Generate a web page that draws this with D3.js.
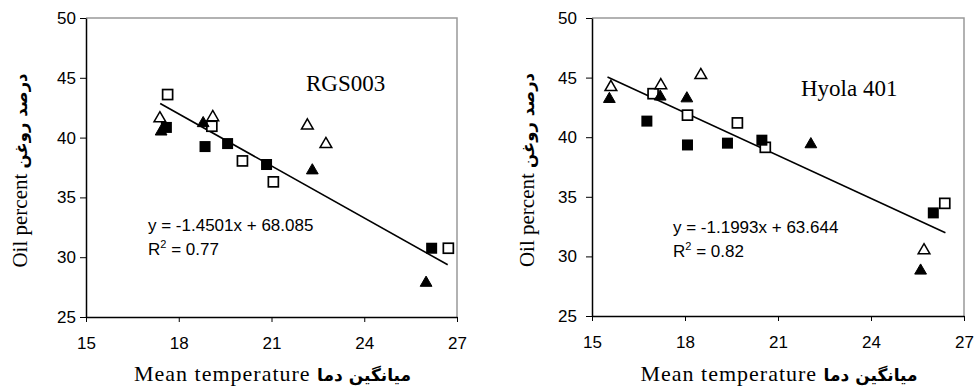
<!DOCTYPE html>
<html>
<head>
<meta charset="utf-8">
<script src="https://cdn.jsdelivr.net/npm/d3@7"></script>
<style>
  body { margin: 0; background: #fff; }
  svg { display: block; }
</style>
</head>
<body>
<div id="chart"></div>
<script>
// ticks shared by both panels
const xTicks = [15, 18, 21, 24, 27];
const yTicks = [25, 30, 35, 40, 45, 50];

// RGS003
const rgsOpenSquares = [[17.64, 43.6], [19.07, 40.95], [20.06, 38.05], [21.06, 36.3], [26.72, 30.75]];
const rgsFilledSquares = [[17.6, 40.85], [18.85, 39.25], [19.58, 39.5], [20.84, 37.75], [26.18, 30.75]];
const rgsOpenTriangles = [[17.39, 41.6], [19.1, 41.7], [22.16, 41.0], [22.76, 39.45]];
const rgsFilledTriangles = [[17.43, 40.5], [18.79, 41.2], [22.32, 37.25], [26.0, 27.85]];
const rgsFit = { slope: -1.4501, intercept: 68.085, from: 17.4, to: 26.7 };
const rgsLabels = ['RGS003', 'y = -1.4501x + 68.085', '0.77'];

// Hyola 401
const hyoOpenSquares = [[16.97, 43.65], [18.08, 41.85], [19.69, 41.2], [20.59, 39.15], [26.38, 34.45]];
const hyoFilledSquares = [[16.77, 41.35], [18.08, 39.35], [19.37, 39.5], [20.48, 39.75], [26.01, 33.65]];
const hyoOpenTriangles = [[15.61, 44.2], [17.22, 44.35], [18.51, 45.2], [25.71, 30.5]];
const hyoFilledTriangles = [[15.56, 43.2], [17.2, 43.4], [18.06, 43.25], [22.06, 39.4], [25.6, 28.8]];
const hyoFit = { slope: -1.1993, intercept: 63.644, from: 15.5, to: 26.4 };
const hyoLabels = ['Hyola 401', 'y = -1.1993x + 63.644', '0.82'];

const W = 974, H = 389;
const svg = d3.select('#chart').append('svg').attr('width', W).attr('height', H);

const sans = 'Arial, "Liberation Sans", sans-serif';
const serif = '"Times New Roman", "Liberation Serif", serif';
const persian = '"DejaVu Sans", sans-serif';

function drawPanel(p) {
    const x = d3.scaleLinear().domain([15, 27]).range([p.left, p.right]);
    const y = d3.scaleLinear().domain([25, 50]).range([p.bottom, p.top]);
    const g = svg.append('g');

    // gray frame top + right
    g.append('path')
        .attr('d', `M${p.left},${p.top}H${p.right}V${p.bottom}`)
        .attr('fill', 'none').attr('stroke', '#999').attr('stroke-width', 1.5);

    const yAxis = g.append('g').attr('transform', `translate(${p.left},0)`)
        .call(d3.axisLeft(y).tickValues(yTicks).tickSize(6).tickPadding(p.yPad).tickSizeOuter(0));
    const xAxis = g.append('g').attr('transform', `translate(0,${p.bottom})`)
        .call(d3.axisBottom(x).tickValues(xTicks).tickSize(5).tickPadding(15).tickSizeOuter(0));
    [xAxis, yAxis].forEach(a => {
        a.select('.domain').attr('stroke', '#000').attr('stroke-width', 1.5);
        a.selectAll('.tick line').attr('stroke', '#000').attr('stroke-width', 1);
        a.selectAll('.tick text').attr('font-family', sans).attr('font-size', 17).attr('fill', '#000');
    });

    // trend line
    g.append('line')
        .attr('x1', x(p.fit.from)).attr('y1', y(p.fit.slope * p.fit.from + p.fit.intercept))
        .attr('x2', x(p.fit.to)).attr('y2', y(p.fit.slope * p.fit.to + p.fit.intercept))
        .attr('stroke', '#000').attr('stroke-width', 1.6);

    const sq = 10;
    const tri = d3.symbol().type(d3.symbolTriangle).size(60);
    const pts = g.append('g');
    pts.selectAll('.os').data(p.openSquares).join('rect')
        .attr('x', d => x(d[0]) - sq / 2).attr('y', d => y(d[1]) - sq / 2)
        .attr('width', sq).attr('height', sq)
        .attr('fill', '#fff').attr('stroke', '#000').attr('stroke-width', 1.7);
    pts.selectAll('.fs').data(p.filledSquares).join('rect')
        .attr('x', d => x(d[0]) - sq / 2 - 0.5).attr('y', d => y(d[1]) - sq / 2 - 0.5)
        .attr('width', sq + 1).attr('height', sq + 1)
        .attr('fill', '#000');
    pts.selectAll('.ot').data(p.openTriangles).join('path')
        .attr('d', tri)
        .attr('transform', d => `translate(${x(d[0])},${y(d[1])})`)
        .attr('fill', '#fff').attr('stroke', '#000').attr('stroke-width', 1.5);
    pts.selectAll('.ft').data(p.filledTriangles).join('path')
        .attr('d', tri)
        .attr('transform', d => `translate(${x(d[0])},${y(d[1])})`)
        .attr('fill', '#000').attr('stroke', '#000').attr('stroke-width', 1);

    // labels
    g.append('text').attr('x', p.nameX).attr('y', p.nameY)
        .attr('font-family', serif).attr('font-size', 23).text(p.labels[0]);
    g.append('text').attr('x', p.eqX).attr('y', p.eqY)
        .attr('font-family', sans).attr('font-size', 17).text(p.labels[1]);
    const r2 = g.append('text').attr('x', p.eqX).attr('y', p.eqY + 24)
        .attr('font-family', sans).attr('font-size', 17);
    r2.append('tspan').text('R');
    r2.append('tspan').attr('font-size', 11).attr('dy', -7).text('2');
    r2.append('tspan').attr('dy', 7).text(' = ' + p.labels[2]);

    // axis titles
    const xt = g.append('text').attr('x', (p.left + p.right) / 2 + 1).attr('y', 381)
        .attr('text-anchor', 'middle').attr('direction', 'ltr');
    xt.append('tspan').attr('font-family', serif).attr('font-size', 22).attr('letter-spacing', 1).text('Mean temperature ');
    xt.append('tspan').attr('font-family', persian).attr('font-weight', 'bold').attr('font-size', 17).text('میانگین دما');

    const yt = g.append('text')
        .attr('transform', `translate(${p.yTitleX},${(p.top + p.bottom) / 2 + 3}) rotate(-90)`)
        .attr('text-anchor', 'middle').attr('direction', 'ltr');
    yt.append('tspan').attr('font-family', serif).attr('font-size', 21).text('Oil percent ');
    yt.append('tspan').attr('font-family', persian).attr('font-weight', 'bold').attr('font-size', 16.5).text('درصد روغن');
}

drawPanel({
    left: 86, right: 457, top: 18, bottom: 317, yPad: 4, yTitleX: 27,
    openSquares: rgsOpenSquares, filledSquares: rgsFilledSquares,
    openTriangles: rgsOpenTriangles, filledTriangles: rgsFilledTriangles,
    fit: rgsFit, labels: rgsLabels,
    nameX: 306, nameY: 91, eqX: 148, eqY: 231
});
drawPanel({
    left: 592, right: 964, top: 18, bottom: 316, yPad: 9, yTitleX: 534,
    openSquares: hyoOpenSquares, filledSquares: hyoFilledSquares,
    openTriangles: hyoOpenTriangles, filledTriangles: hyoFilledTriangles,
    fit: hyoFit, labels: hyoLabels,
    nameX: 801, nameY: 96, eqX: 673, eqY: 233
});
</script>
</body>
</html>
